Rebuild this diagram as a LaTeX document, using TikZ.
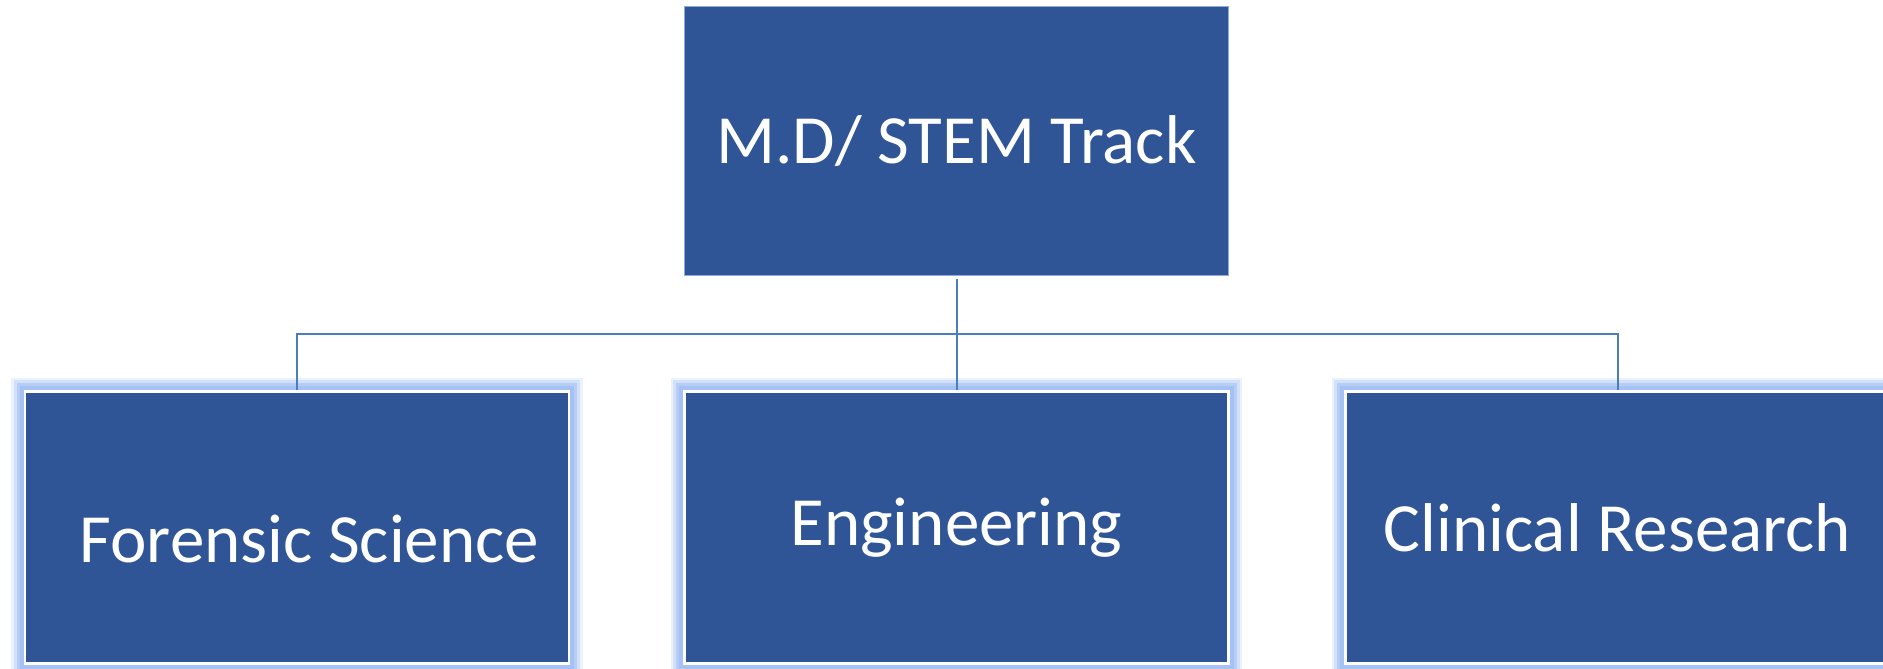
\documentclass[tikz,border=0pt]{standalone}
\usepackage{fontspec}
\setmainfont{Carlito}
\usetikzlibrary{calc}
\definecolor{boxblue}{HTML}{2F5597}
\definecolor{topedge}{HTML}{8FAADC}
\definecolor{linkblue}{HTML}{4A7EBB}
\definecolor{glowblue}{HTML}{A4C2F4}
\tikzset{
	trackbox/.style={fill=boxblue, draw=topedge, line width=0.2mm, text=white,
		minimum width=10.88cm, minimum height=5.4cm, inner sep=0pt,
		font=\fontsize{39.3}{47}\selectfont},
	childbox/.style={trackbox, draw=white, line width=0.5mm, minimum height=5.44cm,
		preaction={draw=glowblue, opacity=0.2, line width=5.6mm, rounded corners=2.6mm},
		preaction={draw=glowblue, opacity=0.35, line width=4.6mm, rounded corners=2mm},
		preaction={draw=glowblue, opacity=0.6, line width=3.4mm, rounded corners=1.4mm},
		preaction={draw=glowblue, line width=2.2mm, rounded corners=0.6mm}},
	link/.style={draw=linkblue, line width=0.4mm}
}
\begin{document}
\begin{tikzpicture}[x=0.02cm, y=-0.02cm]
			%%%%% START %%%%%
			
			\useasboundingbox[fill=white] (0, 0) rectangle (1883, 669);
			
			\node[trackbox] (md) at (956.5, 141) {M.D/ STEM Track};
			
			\node[childbox] (forensic) at (297, 527.5) {\hspace*{5mm}\raisebox{-7mm}[0pt][0pt]{Forensic Science}};
			\node[childbox] (engineering) at (956.5, 527.5) {Engineering};
			\node[childbox] (clinical) at (1617.5, 527.5) {Clinical Research};
			
			\draw[link] ($(md.south)+(0, 3)$) -- ++(0, 55) coordinate (hub);
			\draw[link] (forensic.north) |- (hub) -| (clinical.north);
			\draw[link] (hub) -- (engineering.north);
			
			%%%%% END %%%%%
		\end{tikzpicture}
\end{document}
